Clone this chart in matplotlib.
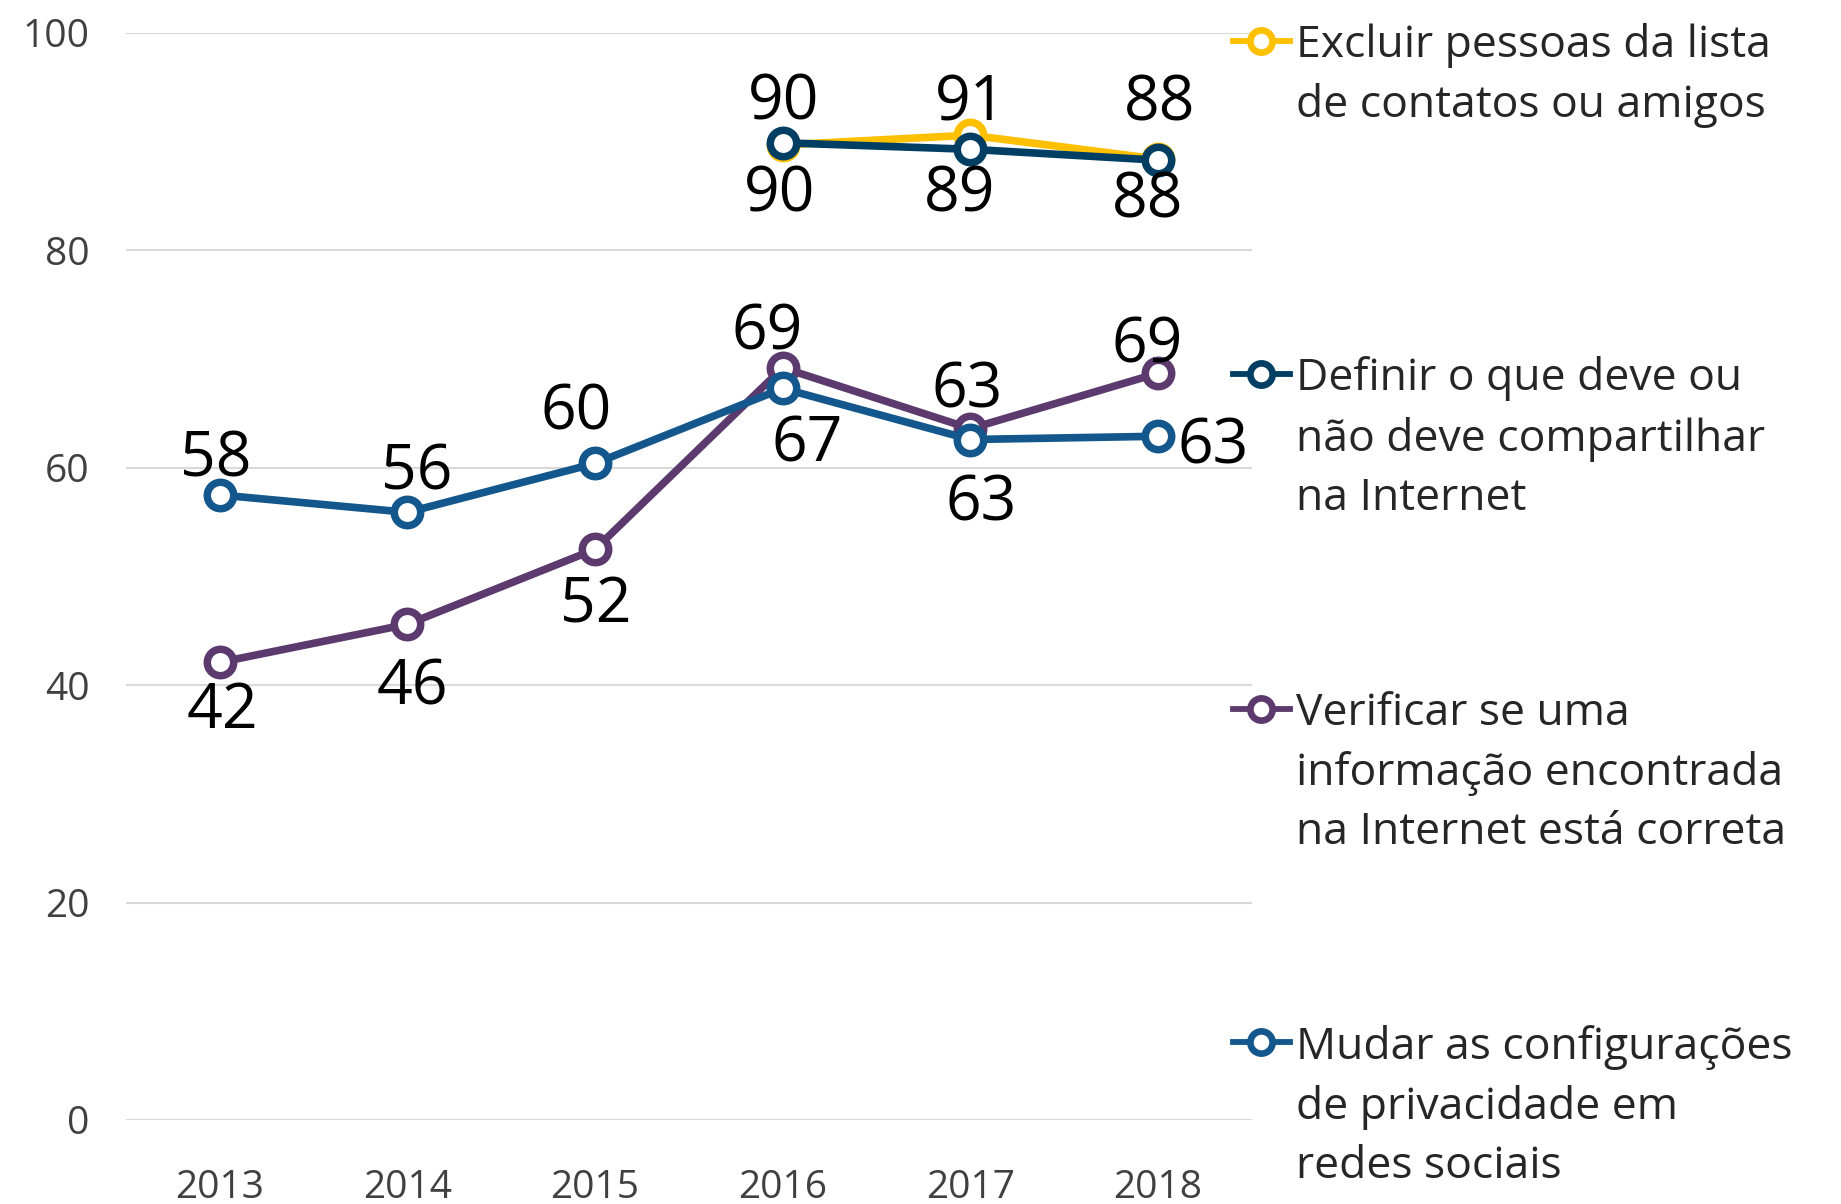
import matplotlib.pyplot as plt
from matplotlib.lines import Line2D
from matplotlib.legend import Legend

years = ["2013", "2014", "2015", "2016", "2017", "2018"]

excluir = [None, None, None, 89.7, 90.6, 88.4]
definir = [None, None, None, 89.9, 89.3, 88.3]
verificar = [42.1, 45.6, 52.5, 69.2, 63.6, 68.7]
mudar = [57.5, 55.9, 60.4, 67.3, 62.6, 62.9]

excluir_lbl = [None, None, None, "90", "91", "88"]
definir_lbl = [None, None, None, "90", "89", "88"]
verificar_lbl = ["42", "46", "52", "69", "63", "69"]
mudar_lbl = ["58", "56", "60", "67", "63", "63"]

names = [
    "Excluir pessoas da lista\nde contatos ou amigos",
    "Definir o que deve ou\nnão deve compartilhar\nna Internet",
    "Verificar se uma\ninformação encontrada\nna Internet está correta",
    "Mudar as configurações\nde privacidade em\nredes sociais",
]
colors = ["#FFC000", "#003F63", "#5C3A6E", "#13578C"]

# label offsets (dx, dy) in screen pixels of the small view, scaled to points
S = 0.845
off_excluir = [None, None, None, (1, 42), (0, 33), (1, 53)]
off_definir = [None, None, None, (-3, -38), (-9, -33), (-9, -29)]
off_verificar = [(2, -36), (4, -48), (1, -42), (-13, 36), (-3, 38), (-9, 29)]
off_mudar = [(-3, 36), (8, 40), (-16, 49), (21, -42), (9, -49), (47, -3)]

plt.rcParams["font.family"] = ["Open Sans", "DejaVu Sans"]

fig = plt.figure(figsize=(18.41, 12.04), dpi=100)
ax = fig.add_axes([0.0684, 0.0698, 0.6116, 0.9028])

x = list(range(len(years)))
series = [
    (excluir, excluir_lbl, off_excluir),
    (definir, definir_lbl, off_definir),
    (verificar, verificar_lbl, off_verificar),
    (mudar, mudar_lbl, off_mudar),
]

for (vals, lbls, offs), c in zip(series, colors):
    xs = [i for i, v in zip(x, vals) if v is not None]
    ys = [v for v in vals if v is not None]
    ax.plot(xs, ys, color=c, lw=5.5, marker="o", ms=19,
            mfc="white", mec=c, mew=5.4, zorder=3)
    for i, v in enumerate(vals):
        if v is None:
            continue
        dx, dy = offs[i]
        ax.annotate(lbls[i], (i, v), xytext=(dx * S, dy * S),
                    textcoords="offset points", ha="center",
                    va="center_baseline", fontsize=45, color="black",
                    zorder=4)

ax.set_xlim(-0.5, 5.5)
ax.set_ylim(0, 100)
ax.set_yticks([0, 20, 40, 60, 80, 100])
ax.set_xticks(x)
ax.set_xticklabels(years)
ax.tick_params(axis="both", length=0, labelsize=28, colors="#404040")
ax.tick_params(axis="y", pad=26)
ax.tick_params(axis="x", pad=35)
ax.grid(True, axis="y", color="#D9D9D9", lw=1.5)
ax.set_axisbelow(True)
for sp in ax.spines.values():
    sp.set_visible(False)

leg_y = [0.965, 0.688, 0.410, 0.133]
for name, c, yy in zip(names, colors, leg_y):
    hd = Line2D([], [], color=c, lw=4.2, marker="o", ms=16,
                mfc="white", mec=c, mew=4.8)
    leg = Legend(fig, [hd], [name], loc="upper left",
                 bbox_to_anchor=(0.6695, yy + 0.016), frameon=False,
                 fontsize=32, handlelength=1.3, handleheight=1.05,
                 handletextpad=0.12, borderpad=0, borderaxespad=0,
                 labelcolor="#262626")
    for t in leg.get_texts():
        t.set_linespacing(1.45)
    for col in leg._legend_handle_box.get_children():
        for row in col.get_children():
            row.align = "top"
    fig.add_artist(leg)

fig.savefig("out.png", dpi=100)
